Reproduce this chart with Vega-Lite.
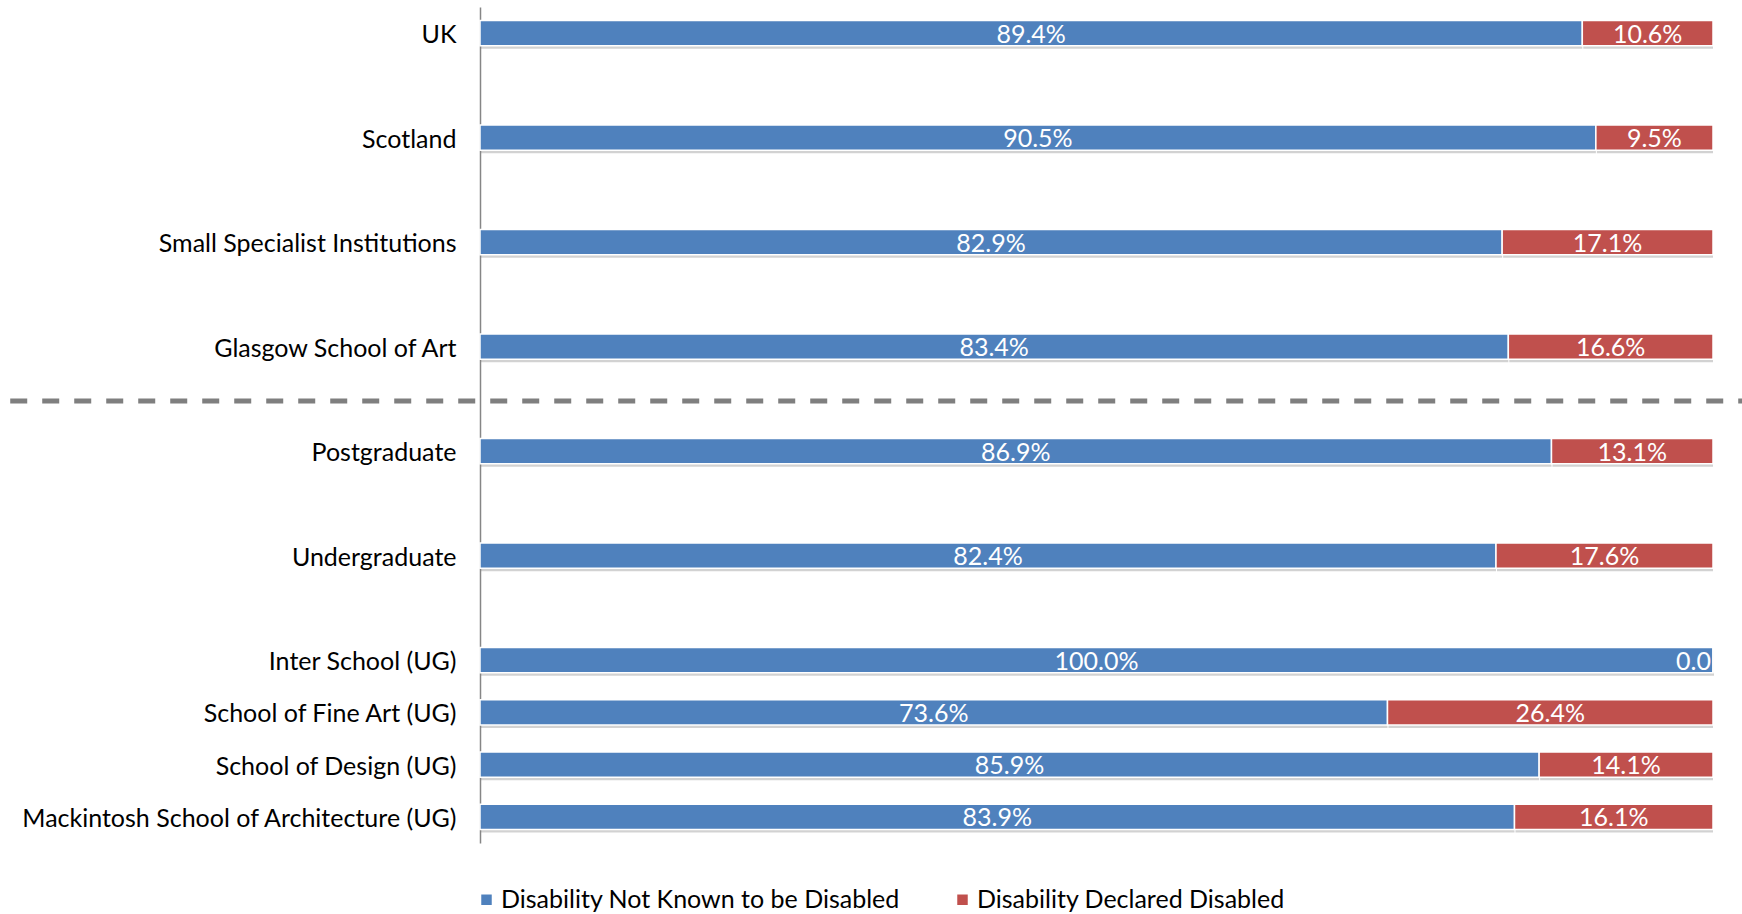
{
  "$schema": "https://vega.github.io/schema/vega-lite/v6.json",
  "autosize": "none",
  "width": 1233,
  "height": 836,
  "padding": {"left": 480, "top": 7, "right": 29, "bottom": 71},
  "background": "white",
  "config": {"view": {"stroke": null}, "font": "Lato"},
  "datasets": {
    "bars": [
      {"cat": "UK", "type": "Disability Not Known to be Disabled", "ord": 1, "value": 89.4, "label": "89.4%"},
      {"cat": "UK", "type": "Disability Declared Disabled", "ord": 2, "value": 10.6, "label": "10.6%"},
      {"cat": "Scotland", "type": "Disability Not Known to be Disabled", "ord": 1, "value": 90.5, "label": "90.5%"},
      {"cat": "Scotland", "type": "Disability Declared Disabled", "ord": 2, "value": 9.5, "label": "9.5%"},
      {"cat": "Small Specialist Institutions", "type": "Disability Not Known to be Disabled", "ord": 1, "value": 82.9, "label": "82.9%"},
      {"cat": "Small Specialist Institutions", "type": "Disability Declared Disabled", "ord": 2, "value": 17.1, "label": "17.1%"},
      {"cat": "Glasgow School of Art", "type": "Disability Not Known to be Disabled", "ord": 1, "value": 83.4, "label": "83.4%"},
      {"cat": "Glasgow School of Art", "type": "Disability Declared Disabled", "ord": 2, "value": 16.6, "label": "16.6%"},
      {"cat": "Postgraduate", "type": "Disability Not Known to be Disabled", "ord": 1, "value": 86.9, "label": "86.9%"},
      {"cat": "Postgraduate", "type": "Disability Declared Disabled", "ord": 2, "value": 13.1, "label": "13.1%"},
      {"cat": "Undergraduate", "type": "Disability Not Known to be Disabled", "ord": 1, "value": 82.4, "label": "82.4%"},
      {"cat": "Undergraduate", "type": "Disability Declared Disabled", "ord": 2, "value": 17.6, "label": "17.6%"},
      {"cat": "Inter School (UG)", "type": "Disability Not Known to be Disabled", "ord": 1, "value": 100.0, "label": "100.0%"},
      {"cat": "Inter School (UG)", "type": "Disability Declared Disabled", "ord": 2, "value": 0.0, "label": "0.0"},
      {"cat": "School of Fine Art (UG)", "type": "Disability Not Known to be Disabled", "ord": 1, "value": 73.6, "label": "73.6%"},
      {"cat": "School of Fine Art (UG)", "type": "Disability Declared Disabled", "ord": 2, "value": 26.4, "label": "26.4%"},
      {"cat": "School of Design (UG)", "type": "Disability Not Known to be Disabled", "ord": 1, "value": 85.9, "label": "85.9%"},
      {"cat": "School of Design (UG)", "type": "Disability Declared Disabled", "ord": 2, "value": 14.1, "label": "14.1%"},
      {"cat": "Mackintosh School of Architecture (UG)", "type": "Disability Not Known to be Disabled", "ord": 1, "value": 83.9, "label": "83.9%"},
      {"cat": "Mackintosh School of Architecture (UG)", "type": "Disability Declared Disabled", "ord": 2, "value": 16.1, "label": "16.1%"}
    ],
    "divider": [
      {"cat": "gap4", "from": -38.1, "to": 102.4}
    ]
  },
  "data": {"name": "bars"},
  "transform": [
    {"stack": "value", "groupby": ["cat"], "sort": [{"field": "ord", "order": "ascending"}], "as": ["v0", "v1"]},
    {"calculate": "(datum.v0 + datum.v1) / 2", "as": "mid"}
  ],
  "encoding": {
    "y": {
      "field": "cat",
      "type": "nominal",
      "scale": {
        "domain": ["UK", "gap1", "Scotland", "gap2", "Small Specialist Institutions", "gap3", "Glasgow School of Art", "gap4", "Postgraduate", "gap5", "Undergraduate", "gap6", "Inter School (UG)", "School of Fine Art (UG)", "School of Design (UG)", "Mackintosh School of Architecture (UG)"],
        "paddingInner": 0.52,
        "paddingOuter": 0.26
      },
      "axis": {
        "title": null,
        "ticks": false,
        "grid": false,
        "domainColor": "#868686",
        "domainWidth": 1.5,
        "labelPadding": 24,
        "labelOffset": 2,
        "labelFontSize": 25,
        "labelColor": "#000000",
        "labelFont": "Lato",
        "labelLimit": 0,
        "labelExpr": "indexof(datum.value, 'gap') == 0 ? '' : datum.value"
      }
    }
  },
  "layer": [
    {
      "mark": {"type": "bar", "color": "#7f7f7f", "opacity": 0.35, "yOffset": 3, "xOffset": 1},
      "encoding": {
        "x": {"field": "v0", "type": "quantitative", "scale": {"domain": [0, 100]}, "axis": null},
        "x2": {"field": "v1"}
      }
    },
    {
      "mark": {"type": "bar", "stroke": "white", "strokeWidth": 1.5},
      "encoding": {
        "x": {"field": "v0", "type": "quantitative", "scale": {"domain": [0, 100]}, "axis": null},
        "x2": {"field": "v1"},
        "color": {
          "field": "type",
          "type": "nominal",
          "scale": {"domain": ["Disability Not Known to be Disabled", "Disability Declared Disabled"], "range": ["#4F81BD", "#C0504D"]},
          "legend": {
            "title": null,
            "orient": "none",
            "direction": "horizontal",
            "legendX": -6,
            "legendY": 880,
            "symbolType": "square",
            "symbolSize": 110,
            "symbolStrokeWidth": 0,
            "labelFontSize": 25,
            "labelFont": "Lato",
            "labelColor": "#000000",
            "labelLimit": 0,
            "labelOffset": 2,
            "columnPadding": 50
          }
        }
      }
    },
    {
      "transform": [{"filter": "datum.value > 0"}],
      "mark": {"type": "text", "color": "white", "fontSize": 25, "font": "Lato", "align": "center", "baseline": "middle", "dy": 1.5},
      "encoding": {
        "x": {"field": "mid", "type": "quantitative"},
        "text": {"field": "label"}
      }
    },
    {
      "transform": [{"filter": "datum.value == 0"}],
      "mark": {"type": "text", "color": "white", "fontSize": 25, "font": "Lato", "align": "right", "baseline": "middle", "dy": 1.5, "dx": -2},
      "encoding": {
        "x": {"field": "v1", "type": "quantitative"},
        "text": {"field": "label"}
      }
    },
    {
      "data": {"name": "divider"},
      "transform": [],
      "mark": {"type": "rule", "color": "#7f7f7f", "strokeWidth": 5, "strokeDash": [17, 15], "clip": false, "yOffset": 2},
      "encoding": {
        "x": {"field": "from", "type": "quantitative"},
        "x2": {"field": "to"}
      }
    }
  ]
}
